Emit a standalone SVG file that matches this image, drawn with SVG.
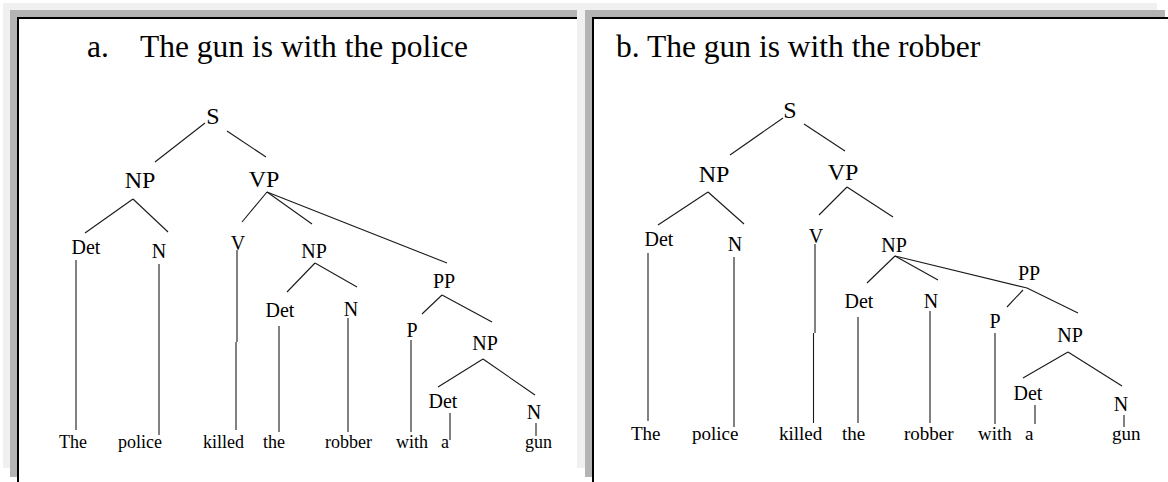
<svg xmlns="http://www.w3.org/2000/svg" width="1168" height="482" viewBox="0 0 1168 482">
<style>
text{font-family:"Liberation Serif","Times New Roman",serif;fill:#000}
.title{font-size:31.5px}
.big{font-size:24px;text-anchor:middle}
.sm{font-size:20px;text-anchor:middle}
.leafa{font-size:18px}
.leafb{font-size:19px}
.conn line{stroke:#1a1a1a;stroke-width:1.1;fill:none}
</style>
<rect x="0" y="0" width="1168" height="482" fill="#fff"/>
<g id="frames">
<rect x="3" y="3" width="1154" height="465" fill="#f0f0f0"/>
<rect x="10" y="10" width="567" height="467" fill="#b4b4b4"/>
<rect x="17" y="17" width="560" height="465" fill="#000"/>
<rect x="19" y="19" width="558" height="463" fill="#fff"/>
<rect x="585" y="10" width="580" height="467" fill="#b4b4b4"/>
<rect x="592" y="17" width="576" height="465" fill="#000"/>
<rect x="594" y="19" width="574" height="463" fill="#fff"/>
</g>
<g id="titles">
<text id="title-a" class="title" y="57"><tspan x="87">a.</tspan><tspan x="140">The gun is with the police</tspan></text>
<text id="title-b" class="title" x="616" y="57">b. The gun is with the robber</text>
</g>
<g id="connectors" class="conn">
<line x1="205" y1="123" x2="155" y2="162"/>
<line x1="227" y1="131" x2="266" y2="157"/>
<line x1="133" y1="199" x2="85" y2="233"/>
<line x1="133" y1="199" x2="168" y2="232"/>
<line x1="267" y1="192" x2="242" y2="222"/>
<line x1="267" y1="192" x2="312" y2="224"/>
<line x1="267" y1="192" x2="447" y2="263"/>
<line x1="315" y1="263" x2="287" y2="292"/>
<line x1="315" y1="263" x2="357" y2="287"/>
<line x1="442" y1="295" x2="422" y2="314"/>
<line x1="442" y1="295" x2="492" y2="322"/>
<line x1="483" y1="359" x2="438" y2="387"/>
<line x1="483" y1="359" x2="535" y2="395"/>
<line x1="76" y1="260" x2="76" y2="430"/>
<line x1="159" y1="264" x2="159" y2="435"/>
<line x1="237" y1="250" x2="237" y2="342"/>
<line x1="236" y1="342" x2="236" y2="430"/>
<line x1="279" y1="326" x2="279" y2="432"/>
<line x1="348" y1="318" x2="348" y2="432"/>
<line x1="411" y1="340" x2="411" y2="432"/>
<line x1="450" y1="413" x2="450" y2="440"/>
<line x1="536" y1="423" x2="536" y2="436"/>
<line x1="783" y1="118" x2="730" y2="155"/>
<line x1="804" y1="124" x2="845" y2="151"/>
<line x1="708" y1="192" x2="658" y2="225"/>
<line x1="708" y1="192" x2="744" y2="224"/>
<line x1="847" y1="187" x2="819" y2="215"/>
<line x1="847" y1="187" x2="893" y2="217"/>
<line x1="895" y1="256" x2="867" y2="283"/>
<line x1="895" y1="256" x2="938" y2="280"/>
<line x1="895" y1="256" x2="1027" y2="288"/>
<line x1="1027" y1="288" x2="1078" y2="313"/>
<line x1="1023" y1="290" x2="1007" y2="307"/>
<line x1="1068" y1="352" x2="1023" y2="378"/>
<line x1="1068" y1="352" x2="1122" y2="386"/>
<line x1="648" y1="253" x2="648" y2="421"/>
<line x1="734" y1="257" x2="734" y2="427"/>
<line x1="815" y1="244" x2="815" y2="333"/>
<line x1="813.5" y1="333" x2="813.5" y2="423"/>
<line x1="858" y1="317" x2="858" y2="423"/>
<line x1="930" y1="311" x2="930" y2="423"/>
<line x1="995" y1="333" x2="995" y2="424"/>
<line x1="1035" y1="405" x2="1035" y2="424"/>
<line x1="1124" y1="415" x2="1124" y2="427"/>
</g>
<g id="tree-a">
<g id="a-S"><text class="big" x="213" y="124">S</text></g>
<g id="a-NP"><text class="big" x="140" y="188">NP</text></g>
<g id="a-VP"><text class="big" x="264" y="187">VP</text></g>
<g id="a-Det1"><text class="sm" x="86" y="254">Det</text></g>
<g id="a-N1"><text class="sm" x="159" y="258">N</text></g>
<g id="a-V"><text class="sm" x="238" y="250">V</text></g>
<g id="a-NP2"><text class="sm" x="314" y="258">NP</text></g>
<g id="a-PP"><text class="sm" x="444" y="288">PP</text></g>
<g id="a-Det2"><text class="sm" x="280" y="317">Det</text></g>
<g id="a-N2"><text class="sm" x="351" y="316">N</text></g>
<g id="a-P"><text class="sm" x="412" y="337">P</text></g>
<g id="a-NP3"><text class="sm" x="485" y="350">NP</text></g>
<g id="a-Det3"><text class="sm" x="443" y="408">Det</text></g>
<g id="a-N3"><text class="sm" x="534" y="419">N</text></g>
<g id="a-leaves">
<text class="leafa" x="59" y="448">The</text>
<text class="leafa" x="118" y="448">police</text>
<text class="leafa" x="203" y="448">killed</text>
<text class="leafa" x="263" y="448">the</text>
<text class="leafa" x="325" y="448">robber</text>
<text class="leafa" x="396" y="448">with</text>
<text class="leafa" x="441" y="448">a</text>
<text class="leafa" x="525" y="448">gun</text>
</g>
</g>
<g id="tree-b">
<g id="b-S"><text class="big" x="790" y="118">S</text></g>
<g id="b-NP"><text class="big" x="714" y="182">NP</text></g>
<g id="b-VP"><text class="big" x="843" y="180">VP</text></g>
<g id="b-Det1"><text class="sm" x="659" y="246">Det</text></g>
<g id="b-N1"><text class="sm" x="735" y="251">N</text></g>
<g id="b-V"><text class="sm" x="816" y="243">V</text></g>
<g id="b-NP2"><text class="sm" x="894" y="252">NP</text></g>
<g id="b-PP"><text class="sm" x="1029" y="280">PP</text></g>
<g id="b-Det2"><text class="sm" x="859" y="308">Det</text></g>
<g id="b-N2"><text class="sm" x="931" y="308">N</text></g>
<g id="b-P"><text class="sm" x="995" y="328">P</text></g>
<g id="b-NP3"><text class="sm" x="1070" y="342">NP</text></g>
<g id="b-Det3"><text class="sm" x="1028" y="400">Det</text></g>
<g id="b-N3"><text class="sm" x="1121" y="411">N</text></g>
<g id="b-leaves">
<text class="leafb" x="631" y="440">The</text>
<text class="leafb" x="692" y="440">police</text>
<text class="leafb" x="779" y="440">killed</text>
<text class="leafb" x="842" y="440">the</text>
<text class="leafb" x="904" y="440">robber</text>
<text class="leafb" x="978" y="440">with</text>
<text class="leafb" x="1025" y="440">a</text>
<text class="leafb" x="1112" y="440">gun</text>
</g>
</g>
</svg>
